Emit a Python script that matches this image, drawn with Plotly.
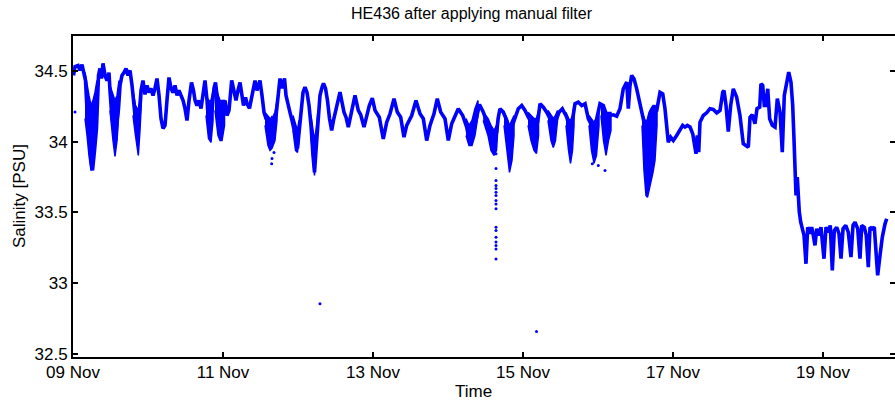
import numpy as np
import pandas as pd
import plotly.graph_objects as go

# ---- data (time in fractional day of November, salinity in PSU) ----
main_day = [
    9.007, 9.027, 9.067, 9.093, 9.12, 9.147, 9.167, 9.187, 9.213, 9.24, 9.26, 9.287, 9.313, 9.327,
    9.34, 9.36, 9.38, 9.4, 9.427, 9.453, 9.48, 9.493, 9.52, 9.547, 9.567, 9.587, 9.607, 9.627,
    9.653, 9.68, 9.707, 9.733, 9.76, 9.787, 9.813, 9.84, 9.867, 9.88, 9.907, 9.933, 9.96, 9.987,
    10.013, 10.04, 10.067, 10.093, 10.12, 10.147, 10.173, 10.2, 10.227, 10.253, 10.28, 10.307,
    10.333, 10.36, 10.387, 10.413, 10.44, 10.467, 10.493, 10.52, 10.547, 10.58, 10.607, 10.627,
    10.653, 10.68, 10.707, 10.733, 10.76, 10.787, 10.807, 10.827, 10.853, 10.88, 10.9, 10.92,
    10.947, 10.973, 11.0, 11.027, 11.053, 11.08, 11.116, 11.147, 11.173, 11.2, 11.227, 11.253,
    11.273, 11.3, 11.32, 11.353, 11.387, 11.427, 11.453, 11.493, 11.52, 11.547, 11.573, 11.6,
    11.627, 11.653, 11.68, 11.707, 11.733, 11.76, 11.787, 11.82, 11.84, 11.867, 11.893, 11.92,
    11.947, 11.973, 11.993, 12.013, 12.04, 12.067, 12.093, 12.12, 12.147, 12.173, 12.2, 12.22,
    12.24, 12.267, 12.293, 12.32, 12.34, 12.367, 12.393, 12.42, 12.449, 12.473, 12.507, 12.533,
    12.56, 12.613, 12.64, 12.671, 12.703, 12.729, 12.76, 12.804, 12.836, 12.88, 12.916, 12.951,
    12.991, 13.027, 13.084, 13.137, 13.183, 13.227, 13.28, 13.324, 13.369, 13.413, 13.449, 13.516,
    13.573, 13.627, 13.671, 13.716, 13.76, 13.813, 13.857, 13.903, 13.96, 14.004, 14.049, 14.093,
    14.137, 14.196, 14.249, 14.293, 14.337, 14.42, 14.471, 14.516, 14.56, 14.604, 14.649, 14.671,
    14.693, 14.737, 14.783, 14.813, 14.849, 14.893, 14.937, 14.983, 15.027, 15.071, 15.116, 15.16,
    15.196, 15.227, 15.271, 15.316, 15.36, 15.404, 15.449, 15.48, 15.524, 15.583, 15.627, 15.663,
    15.693, 15.737, 15.783, 15.827, 15.871, 15.937, 15.983, 16.027, 16.071, 16.116, 16.16, 16.204,
    16.249, 16.293, 16.337, 16.383, 16.404, 16.427, 16.449, 16.48, 16.516, 16.551, 16.583, 16.613,
    16.649, 16.693, 16.737, 16.783, 16.827, 16.863, 16.893, 16.937, 16.969, 17.004, 17.049, 17.093,
    17.129, 17.16, 17.191, 17.227, 17.263, 17.307, 17.324, 17.343, 17.36, 17.404, 17.449, 17.493,
    17.537, 17.583, 17.627, 17.663, 17.68, 17.707, 17.737, 17.769, 17.804, 17.849, 17.893, 17.937,
    17.983, 18.004, 18.027, 18.057, 18.093, 18.12, 18.156, 18.173, 18.196, 18.217, 18.236, 18.263,
    18.289, 18.324, 18.36, 18.391, 18.427, 18.457, 18.484, 18.516, 18.543, 18.573, 18.596, 18.613,
    18.627, 18.64, 18.657, 18.671, 18.684, 18.703, 18.724, 18.747, 18.773, 18.796, 18.827, 18.849,
    18.871, 18.893, 18.916, 18.947, 18.973, 19.013, 19.04, 19.071, 19.097, 19.124, 19.151, 19.183,
    19.213, 19.24, 19.267, 19.303, 19.337, 19.373, 19.4, 19.427, 19.463, 19.493, 19.516, 19.551,
    19.577, 19.604, 19.627, 19.657, 19.684, 19.729, 19.76, 19.791, 19.827, 19.849,
]
main_psu = [
    34.47, 34.533, 34.54, 34.505, 34.547, 34.49, 34.434, 34.222, 34.116, 33.868, 33.797, 33.939, 34.094, 34.293,
    34.47, 34.519, 34.448, 34.555, 34.47, 34.434, 34.49, 34.363, 34.165, 34.116, 34.009, 34.151, 34.236, 34.399,
    34.47, 34.49, 34.519, 34.47, 34.505, 34.399, 34.222, 34.116, 34.08, 34.208, 34.363, 34.434, 34.335, 34.399,
    34.349, 34.378, 34.328, 34.378, 34.448, 34.328, 34.165, 34.094, 34.116, 34.293, 34.455, 34.378,
    34.349, 34.399, 34.328, 34.363, 34.328, 34.293, 34.236, 34.151, 34.293, 34.42, 34.363, 34.293,
    34.257, 34.293, 34.236, 34.328, 34.434, 34.293, 34.137, 34.186, 34.222, 34.378, 34.42, 34.328,
    34.222, 34.165, 34.257, 34.293, 34.186, 34.222, 34.434, 34.349, 34.293, 34.363, 34.42, 34.328,
    34.257, 34.314, 34.271, 34.236, 34.328, 34.434, 34.363, 34.434, 34.328, 34.208, 34.165, 34.151,
    34.137, 34.165, 34.151, 34.186, 34.328, 34.448, 34.378, 34.448, 34.328, 34.257, 34.208, 34.151,
    34.094, 34.024, 33.953, 34.08, 34.236, 34.349, 34.387, 34.349, 34.257, 34.116, 33.903, 33.783,
    33.939, 34.186, 34.328, 34.385, 34.413, 34.378, 34.293, 34.165, 34.08, 34.151, 34.236, 34.307,
    34.351, 34.21, 34.174, 34.104, 34.186, 34.257, 34.328, 34.222, 34.191, 34.104, 34.186, 34.257,
    34.309, 34.222, 34.174, 34.021, 34.139, 34.198, 34.305, 34.21, 34.174, 34.033, 34.116, 34.186,
    34.293, 34.198, 34.163, 34.009, 34.116, 34.198, 34.305, 34.21, 34.163, 34.009, 34.128, 34.186,
    34.234, 34.186, 34.104, 33.986, 34.068, 34.264, 34.21, 34.139, 34.104, 34.045, 34.068, 34.174,
    34.234, 34.21, 34.151, 34.045, 34.104, 34.174, 34.234, 34.257, 34.222, 34.174, 34.128, 34.092,
    34.139, 34.269, 34.245, 34.21, 34.163, 34.116, 34.163, 34.21, 34.234, 34.174, 34.092, 34.163,
    34.269, 34.281, 34.257, 34.269, 34.163, 34.092, 34.163, 34.269, 34.257, 34.186, 34.186, 34.191,
    34.181, 34.234, 34.375, 34.422, 34.234, 34.399, 34.47, 34.446, 34.375, 34.28, 34.21, 34.139,
    33.903, 34.139, 34.21, 34.222, 34.351, 34.34, 34.234, 33.997, 34.033, 34.009, 34.045, 34.08,
    34.116, 34.104, 34.116, 34.104, 34.057, 33.915, 34.045, 33.927, 34.139, 34.186, 34.205, 34.234,
    34.229, 34.205, 34.222, 34.351, 34.363, 34.257, 34.073, 34.257, 34.375, 34.316, 34.186, 33.986,
    33.974, 33.962, 34.174, 34.191, 34.128, 34.234, 34.245, 34.411, 34.399, 34.257, 34.257, 34.375,
    34.163, 34.116, 34.104, 34.305, 34.21, 33.927, 34.328, 34.422, 34.493, 34.422, 34.257, 34.021,
    33.738, 33.62, 33.749, 33.549, 33.502, 33.431, 33.384, 33.337, 33.136, 33.395, 33.349, 33.395,
    33.337, 33.266, 33.384, 33.337, 33.395, 33.172, 33.395, 33.36, 33.408, 33.089, 33.372, 33.395,
    33.349, 33.172, 33.384, 33.408, 33.36, 33.183, 33.408, 33.431, 33.384, 33.172, 33.408, 33.395,
    33.337, 33.112, 33.395, 33.384, 33.395, 33.054, 33.195, 33.325, 33.419, 33.455,
]

# noisy scatter envelopes (bursts of spread in the dots), bands separated by None
noise_day = [
    9.16, 9.187, 9.213, 9.24, 9.267, 9.293, 9.32, None,
    9.493, 9.533, 9.56, 9.587, 9.613, None,
    9.8, 9.833, 9.871, 9.893, 9.913, None,
    10.773, 10.807, 10.84, 10.867, None,
    10.893, 10.933, 10.96, 10.987, 11.02, None,
    11.56, 11.6, 11.627, 11.653, 11.693, 11.72, None,
    11.933, 11.967, 11.993, 12.013, None,
    12.173, 12.2, 12.22, 12.24, 12.267, None,
    14.24, 14.28, 14.32, 14.36, 14.4, None,
    14.47, 14.533, 14.573, 14.613, 14.647, 14.667, None,
    14.747, 14.787, 14.82, 14.853, 14.88, None,
    15.067, 15.107, 15.147, 15.18, 15.207, None,
    15.333, 15.373, 15.404, 15.433, 15.46, None,
    15.573, 15.607, 15.633, 15.66, 15.68, None,
    15.88, 15.913, 15.947, 15.98, 16.013, None,
    16.04, 16.073, 16.107, 16.14, 16.173, None,
    16.587, 16.613, 16.64, 16.66, 16.68, 16.707, 16.733, 16.76, 16.787,
]
noise_hi = [
    34.491, 34.399, 34.328, 34.257, 34.293, 34.349, 34.434, None,
    34.399, 34.328, 34.293, 34.328, 34.434, None,
    34.363, 34.257, 34.222, 34.293, 34.399, None,
    34.328, 34.293, 34.293, 34.363, None,
    34.399, 34.328, 34.293, 34.293, 34.293, None,
    34.208, 34.186, 34.165, 34.165, 34.208, 34.293, None,
    34.186, 34.116, 34.08, 34.151, None,
    34.186, 34.08, 34.009, 34.08, 34.222, None,
    34.165, 34.116, 34.151, 34.236, 34.293, None,
    34.21, 34.165, 34.116, 34.08, 34.116, 34.186, None,
    34.208, 34.165, 34.116, 34.151, 34.186, None,
    34.208, 34.186, 34.165, 34.165, 34.222, None,
    34.222, 34.186, 34.165, 34.186, 34.222, None,
    34.208, 34.165, 34.151, 34.186, 34.257, None,
    34.186, 34.165, 34.137, 34.165, 34.236, None,
    34.257, 34.236, 34.208, 34.208, 34.208, None,
    34.208, 34.165, 34.137, 34.165, 34.208, 34.236, 34.257, 34.257, 34.236,
]
noise_lo = [
    34.165, 34.045, 33.903, 33.797, 33.832, 33.939, 34.116, None,
    34.222, 34.009, 33.896, 34.009, 34.222, None,
    34.186, 34.045, 33.903, 34.08, 34.293, None,
    34.186, 34.024, 33.995, 34.151, None,
    34.222, 34.045, 34.009, 34.009, 34.116, None,
    34.116, 33.974, 33.939, 33.953, 34.009, 34.151, None,
    34.08, 33.939, 33.925, 34.009, None,
    34.045, 33.868, 33.762, 33.868, 34.116, None,
    34.045, 33.974, 33.974, 34.045, 34.186, None,
    34.151, 34.045, 33.939, 33.903, 33.939, 34.116, None,
    34.116, 33.939, 33.783, 33.868, 34.045, None,
    34.116, 34.009, 33.939, 33.917, 34.045, None,
    34.151, 34.009, 33.96, 34.009, 34.151, None,
    34.116, 33.939, 33.847, 33.939, 34.116, None,
    34.116, 33.939, 33.847, 33.903, 34.116, None,
    34.186, 34.009, 33.903, 34.009, 34.08, None,
    34.116, 33.797, 33.62, 33.606, 33.655, 33.726, 33.783, 33.868, 34.116,
]

# isolated samples outside the main band
spike_day = [
    9.027, 11.649, 11.653, 11.68, 12.293,
    14.64, 14.64, 14.64, 14.64, 14.64, 14.64, 14.64, 14.64, 14.64,
    14.64, 14.64, 14.64, 14.64, 14.64, 14.64, 14.64, 14.64,
    15.18, 15.924, 16.004, 16.093,
]
spike_psu = [
    34.21, 33.844, 33.882, 33.924, 32.853,
    33.915, 33.81, 33.726, 33.69, 33.67, 33.643, 33.62, 33.584, 33.56,
    33.526, 33.395, 33.372, 33.324, 33.29, 33.265, 33.24, 33.17,
    32.657, 33.844, 33.832, 33.797,
]

x_tick_days = [9, 11, 13, 15, 17, 19]
y_tick_vals = [32.5, 33, 33.5, 34, 34.5]
y_tick_text = ["32.5", "33", "33.5", "34", "34.5"]

# ---- helpers ----
BASE = pd.Timestamp("2014-11-01")


def to_time(days):
    return [BASE + pd.Timedelta(days=float(d) - 1.0) for d in days]


def split_groups(*cols):
    groups, cur = [], [[] for _ in cols]
    for vals in zip(*cols):
        if vals[0] is None:
            groups.append(cur)
            cur = [[] for _ in cols]
        else:
            for c, v in zip(cur, vals):
                c.append(v)
    groups.append(cur)
    return groups


BLUE = "#0000FF"
FONT = "Liberation Sans, Arial, sans-serif"
TICK_SIZE = 17
LABEL_SIZE = 17
TITLE_SIZE = 16

fig = go.Figure()

for d, hi, lo in split_groups(noise_day, noise_hi, noise_lo):
    xs = to_time(d + d[::-1])
    ys = hi + lo[::-1]
    fig.add_trace(go.Scatter(x=xs, y=ys, fill="toself", fillcolor=BLUE,
                             mode="lines", line=dict(color=BLUE, width=1.5),
                             hoverinfo="skip", showlegend=False))

fig.add_trace(go.Scatter(x=to_time(main_day), y=main_psu, mode="lines",
                         line=dict(color=BLUE, width=3.6), showlegend=False))

fig.add_trace(go.Scatter(x=to_time(spike_day), y=spike_psu, mode="markers",
                         marker=dict(color=BLUE, size=3), showlegend=False))

# invisible trace to host the mirrored right-side ticks
fig.add_trace(go.Scatter(x=to_time([9.5]), y=[33.5], yaxis="y2", mode="markers",
                         marker=dict(opacity=0), hoverinfo="skip", showlegend=False))

W, H = 895, 406
L, R, T, B = 73, 0, 36, 49
plot_w = W - L - R
plot_h = H - T - B
px_per_day = 75.0
x_end_day = 9 + plot_w / px_per_day

y_lo, y_hi = 32.476, 34.749

fig.update_layout(
    width=W, height=H,
    margin=dict(l=L, r=R, t=T, b=B, pad=0, autoexpand=False),
    plot_bgcolor="white", paper_bgcolor="white",
    font=dict(family=FONT, size=TICK_SIZE, color="black"),
    xaxis=dict(
        type="date",
        range=to_time([9.0, x_end_day]),
        tickvals=to_time(x_tick_days),
        tickformat="%d %b",
        ticks="inside", ticklen=5, tickwidth=1.5, tickcolor="black",
        ticklabelstandoff=-1,
        showline=True, linewidth=2, linecolor="black", mirror="ticks",
        showgrid=False, zeroline=False, automargin=False,
        tickfont=dict(family=FONT, size=TICK_SIZE, color="black"),
    ),
    yaxis=dict(
        range=[y_lo, y_hi],
        tickvals=y_tick_vals, ticktext=y_tick_text,
        ticks="inside", ticklen=5, tickwidth=1.5, tickcolor="black",
        showline=True, linewidth=2, linecolor="black",
        showgrid=False, zeroline=False, automargin=False,
        tickfont=dict(family=FONT, size=TICK_SIZE, color="black"),
    ),
    yaxis2=dict(
        overlaying="y", side="right",
        range=[y_lo, y_hi],
        tickvals=y_tick_vals,
        ticks="inside", ticklen=5, tickwidth=1.5, tickcolor="black",
        showticklabels=False, showline=False, automargin=False,
        showgrid=False, zeroline=False,
    ),
    annotations=[
        dict(text="HE436 after applying manual filter", xref="paper", yref="paper",
             x=(472 - L) / plot_w, y=1 + (T - 13) / plot_h, xanchor="center", yanchor="middle",
             showarrow=False, font=dict(family=FONT, size=TITLE_SIZE, color="black")),
        dict(text="Time", xref="paper", yref="paper",
             x=(473 - L) / plot_w, y=-(392 - (H - B)) / plot_h, xanchor="center", yanchor="middle",
             showarrow=False, font=dict(family=FONT, size=LABEL_SIZE, color="black")),
        dict(text="Salinity [PSU]", xref="paper", yref="paper", textangle=-90,
             x=(19 - L) / plot_w, y=(H - B - 196) / plot_h, xanchor="center", yanchor="middle",
             showarrow=False, font=dict(family=FONT, size=LABEL_SIZE, color="black")),
    ],
)

fig.write_html("out.html", config={"displayModeBar": False},
               post_script="document.body.style.margin='0';document.body.style.overflow='hidden';")
